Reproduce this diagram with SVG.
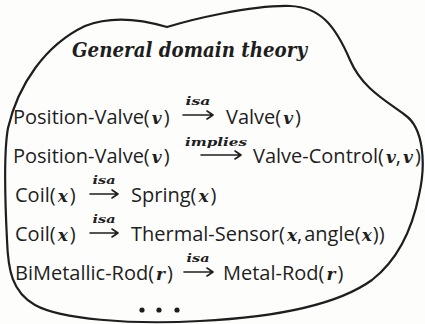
<svg xmlns="http://www.w3.org/2000/svg" width="425" height="324" viewBox="0 0 425 324">
<style>
.t{font-family:"Open Sans","DejaVu Sans",sans-serif;font-size:20px;font-weight:500;fill:#1e1e1e}
.m{font-family:"DejaVu Serif","Liberation Serif",serif;font-style:italic;font-weight:bold;font-size:17px}
.lab{font-family:"DejaVu Serif","Liberation Serif",serif;font-style:italic;font-weight:bold;font-size:11px;fill:#1e1e1e}
.title{font-family:"DejaVu Serif","Liberation Serif",serif;font-style:italic;font-weight:bold;font-size:20px;fill:#1e1e1e}
.arr{fill:none;stroke:#1e1e1e;stroke-width:1.6;stroke-linecap:round;stroke-linejoin:round}
.dot{fill:#1e1e1e}
</style>
<rect width="425" height="324" fill="#fdfdfc"/>
<g id="blob">
<path d="M 167,27 C 190,20 250,5 290,6 C 320,7 335,25 350,60 C 362,88 385,100 405,115 C 424,128 426,165 419,195 C 411,235 395,262 372,280 C 340,303 280,317 200,321 C 130,325 60,319 35,305 C 12,292 8,270 7,240 C 5,200 4,150 8,128 C 18,85 45,45 85,26 C 115,14 150,22 167,27 Z" fill="none" stroke="#1e1e1e" stroke-width="2.2"/>
</g>
<g id="title">
<text class="title" x="72" y="57" textLength="235" lengthAdjust="spacingAndGlyphs">General domain theory</text>
</g>
<g id="row1">
<text class="t" x="13" y="124">Position-Valve(<tspan class="m" dx="2">v</tspan><tspan dx="2">)</tspan></text>
<text class="lab" x="198" y="105" text-anchor="middle" textLength="25" lengthAdjust="spacingAndGlyphs">isa</text>
<path class="arr" d="M 183,115 H 213 M 207,111 L 213,115 L 207,119"/>
<text class="t" x="226" y="124">Valve(<tspan class="m" dx="2">v</tspan><tspan dx="2">)</tspan></text>
</g>
<g id="row2">
<text class="t" x="13" y="163">Position-Valve(<tspan class="m" dx="2">v</tspan><tspan dx="2">)</tspan></text>
<text class="lab" x="216" y="146" text-anchor="middle" textLength="62" lengthAdjust="spacingAndGlyphs">implies</text>
<path class="arr" d="M 201,155 H 241 M 235,151 L 241,155 L 235,159"/>
<text class="t" x="253" y="163">Valve-Control(<tspan class="m" dx="2">v</tspan>,<tspan class="m" dx="2">v</tspan><tspan dx="2">)</tspan></text>
</g>
<g id="row3">
<text class="t" x="15" y="202">Coil(<tspan class="m" dx="2">x</tspan><tspan dx="2">)</tspan></text>
<text class="lab" x="104" y="184" text-anchor="middle" textLength="23" lengthAdjust="spacingAndGlyphs">isa</text>
<path class="arr" d="M 90,194 H 118 M 112,190 L 118,194 L 112,198"/>
<text class="t" x="131" y="202">Spring(<tspan class="m" dx="2">x</tspan><tspan dx="2">)</tspan></text>
</g>
<g id="row4">
<text class="t" x="15" y="241">Coil(<tspan class="m" dx="2">x</tspan><tspan dx="2">)</tspan></text>
<text class="lab" x="104" y="223" text-anchor="middle" textLength="23" lengthAdjust="spacingAndGlyphs">isa</text>
<path class="arr" d="M 90,233 H 118 M 112,229 L 118,233 L 112,237"/>
<text class="t" x="131" y="241">Thermal-Sensor(<tspan class="m" dx="2">x</tspan>,<tspan dx="2">angle(</tspan><tspan class="m" dx="1">x</tspan><tspan dx="1">))</tspan></text>
</g>
<g id="row5">
<text class="t" x="15" y="280">BiMetallic-Rod(<tspan class="m" dx="2">r</tspan><tspan dx="2">)</tspan></text>
<text class="lab" x="198" y="262" text-anchor="middle" textLength="23" lengthAdjust="spacingAndGlyphs">isa</text>
<path class="arr" d="M 184,272 H 213 M 207,268 L 213,272 L 207,276"/>
<text class="t" x="223" y="280">Metal-Rod(<tspan class="m" dx="2">r</tspan><tspan dx="2">)</tspan></text>
</g>
<g id="dots">
<circle class="dot" cx="142" cy="310" r="2.6"/>
<circle class="dot" cx="159" cy="310" r="2.6"/>
<circle class="dot" cx="177" cy="310" r="2.6"/>
</g>
</svg>
